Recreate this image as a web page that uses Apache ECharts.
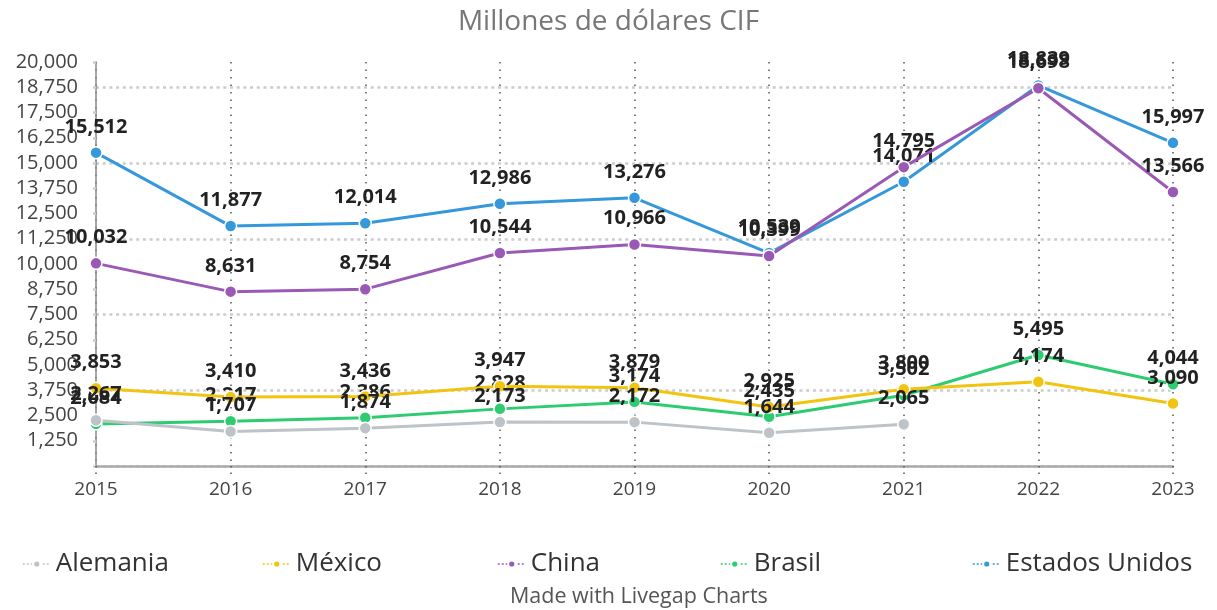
<!DOCTYPE html>
<html>
<head>
<meta charset="utf-8">
<title>Millones de dólares CIF</title>
<script src="https://cdn.jsdelivr.net/npm/echarts@6/dist/echarts.min.js"></script>
<style>
  html, body { margin: 0; padding: 0; background: #fff; }
  #chart { width: 1217px; height: 610px; }
</style>
</head>
<body>
<div id="chart"></div>
<script>
// datos
var years = ['2015', '2016', '2017', '2018', '2019', '2020', '2021', '2022', '2023'];
var alemania = [2267, 1707, 1874, 2173, 2172, 1644, 2065, null, null];
var mexico = [3853, 3410, 3436, 3947, 3879, 2925, 3800, 4174, 3090];
var china = [10032, 8631, 8754, 10544, 10966, 10399, 14795, 18698, 13566];
var brasil = [2084, 2217, 2386, 2828, 3174, 2435, 3502, 5495, 4044];
var estadosUnidos = [15512, 11877, 12014, 12986, 13276, 10539, 14071, 18839, 15997];

var names = ['Alemania', 'México', 'China', 'Brasil', 'Estados Unidos'];
var colors = ['#bdc3c7', '#f1c40f', '#9b59b6', '#2ecc71', '#3498db'];
var legendLeft = [17, 257, 492, 715, 967];

var font = '"Open Sans", "Noto Sans", sans-serif';

function fmt(v) {
  return Number(v).toLocaleString('en-US');
}

// la primera serie queda encima, como en el original
function makeSeries(name, data, color, z) {
  return {
    name: name,
    type: 'line',
    data: data,
    z: z,
    symbol: 'circle',
    symbolSize: 12,
    connectNulls: false,
    lineStyle: { color: color, width: 3 },
    itemStyle: { color: color, borderColor: '#fff', borderWidth: 1.5 },
    label: {
      show: true,
      position: 'top',
      distance: 9,
      color: '#222',
      fontFamily: font,
      fontWeight: 'bold',
      fontSize: 20,
      formatter: function (p) { return fmt(p.value); }
    },
    emphasis: { disabled: true }
  };
}

var chart = echarts.init(document.getElementById('chart'));

var option = {
  animation: false,
  color: colors,
  title: [
    {
      text: 'Millones de dólares CIF',
      left: 'center',
      top: 3,
      textStyle: { fontFamily: font, fontSize: 28, fontWeight: 'normal', color: '#777' }
    },
    {
      text: 'Made with Livegap Charts',
      left: 505,
      top: 581,
      textStyle: { fontFamily: font, fontSize: 21.5, fontWeight: 'normal', color: '#555' }
    }
  ],
  legend: names.map(function (n, i) {
    return {
      data: [n],
      left: legendLeft[i],
      top: 546,
      itemWidth: 28,
      itemHeight: 9,
      itemGap: 6,
      selectedMode: false,
      lineStyle: { width: 1.5, type: [2, 2] },
      textStyle: { fontFamily: font, fontSize: 26, color: '#333' }
    };
  }),
  grid: { left: 96, right: 44, top: 62, bottom: 144, containLabel: false },
  xAxis: {
    type: 'category',
    data: years,
    boundaryGap: false,
    axisLine: { lineStyle: { color: '#aaa', width: 2.5 } },
    axisTick: { show: true, length: 9, lineStyle: { color: '#555', width: 1.5, type: [1.5, 5] } },
    axisLabel: { fontFamily: font, fontSize: 19, color: '#444', margin: 14 },
    splitLine: { show: true, lineStyle: { color: '#555', width: 1.5, type: [1.5, 6] } }
  },
  yAxis: {
    type: 'value',
    min: 0,
    max: 20000,
    interval: 1250,
    axisLine: { show: true, lineStyle: { color: '#888', width: 1.5 } },
    axisTick: { show: true, length: 10, lineStyle: { color: '#ccc', width: 2.5, type: [3, 7] } },
    axisLabel: {
      fontFamily: font, fontSize: 20, color: '#444', margin: 18,
      formatter: function (v) { return v === 0 ? '' : fmt(v); }
    },
    splitLine: {
      show: true,
      lineStyle: { color: ['#ccc', 'rgba(0,0,0,0)', 'rgba(0,0,0,0)'], width: 2.5, type: [3, 3.7] }
    }
  },
  series: [
    makeSeries(names[0], alemania, colors[0], 7),
    makeSeries(names[1], mexico, colors[1], 6),
    makeSeries(names[2], china, colors[2], 5),
    makeSeries(names[3], brasil, colors[3], 4),
    makeSeries(names[4], estadosUnidos, colors[4], 3)
  ]
};

chart.setOption(option);
</script>
</body>
</html>
